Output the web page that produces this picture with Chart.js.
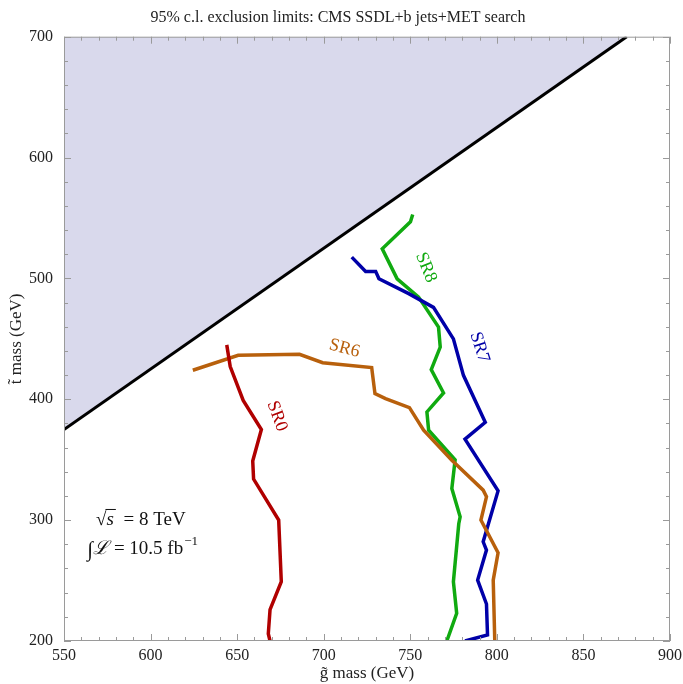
<!DOCTYPE html>
<html>
<head>
<meta charset="utf-8">
<script src="https://cdn.jsdelivr.net/npm/chart.js@4.4.0/dist/chart.umd.min.js"></script>
<style>
  html, body { margin: 0; padding: 0; background: #fff; }
  #wrap { width: 683px; height: 684px; }
</style>
</head>
<body>
<div id="wrap"><canvas id="chart" width="683" height="684"></canvas></div>
<script>
// axis ticks
const xTicks = [550, 600, 650, 700, 750, 800, 850, 900];
const yTicks = [200, 300, 400, 500, 600, 700];

// kinematic boundary (m_stop = m_gluino - m_top)
const boundX = [550, 875];
const boundY = [375, 700];

// exclusion curves
const sr0X = [644, 646, 653.5, 664, 659, 659.5, 674, 675.5, 669, 668, 669];
const sr0Y = [445, 427, 399, 375, 349, 334, 300, 249, 226, 206, 200];

const sr6X = [624.4, 650.6, 686, 699.4, 727.7, 729.6, 735.7, 749.5, 757.7, 774, 792.1, 794, 790.8, 800.7, 797.9, 798.8];
const sr6Y = [424, 436.4, 437.2, 430.3, 426.2, 404.7, 400.6, 393.1, 374.4, 349.6, 324.8, 319.3, 300, 273, 250.4, 200];

const sr7X = [716.2, 724.2, 730, 731.9, 749.1, 763.4, 774.9, 780.7, 793.3, 781.6, 800.7, 792.1, 794, 788.9, 794, 794.6, 781.6];
const sr7Y = [517.6, 505.8, 505.8, 499.7, 487.4, 476, 450, 419.8, 381, 367, 324.2, 282.1, 275.2, 250.4, 230.6, 205, 200];

const sr8X = [751.4, 750.1, 733.8, 742.4, 754.8, 766.3, 767.3, 762.1, 769.2, 759.6, 760.6, 775.9, 774, 778.8, 778, 774.9, 776.8, 771.1];
const sr8Y = [552.9, 546.9, 524.5, 499.7, 484.5, 459.7, 443.2, 424.5, 405.2, 389.5, 374.4, 350, 326.2, 302.7, 297, 249, 222.9, 200];

// curve labels: text, position (data coords), rotation
const labels = [
  { text: "SR0", x: 673, y: 386, rot: 70, color: "#b00000" },
  { text: "SR6", x: 712, y: 442, rot: 15, color: "#b8600c" },
  { text: "SR7", x: 790, y: 443, rot: 72, color: "#0000a8" },
  { text: "SR8", x: 759, y: 509, rot: 68, color: "#10aa10" }
];

const serif = "'Liberation Serif', 'DejaVu Serif', serif";

function pts(xs, ys) {
  return xs.map((x, i) => ({ x: x, y: ys[i] }));
}

function curve(xs, ys, color) {
  return {
    data: pts(xs, ys),
    borderColor: color,
    borderWidth: 3.5,
    pointRadius: 0,
    showLine: true,
    fill: false,
    borderJoinStyle: "miter"
  };
}

// frame, inward ticks and text annotations
const decor = {
  id: "decor",
  afterDraw(chart) {
    const ctx = chart.ctx;
    const a = chart.chartArea;
    const xs = chart.scales.x, ys = chart.scales.y;
    ctx.save();
    ctx.strokeStyle = "#9a9a9a";
    ctx.lineWidth = 1;
    ctx.strokeRect(a.left + 0.5, a.top + 0.5, a.right - a.left - 1, a.bottom - a.top - 1);

    ctx.beginPath();
    for (let v = 550; v <= 900; v += 10) {
      const px = Math.round(xs.getPixelForValue(v)) + 0.5;
      const len = v % 50 === 0 ? 7 : 4;
      ctx.moveTo(px, a.bottom); ctx.lineTo(px, a.bottom - len);
      ctx.moveTo(px, a.top); ctx.lineTo(px, a.top + len);
    }
    for (let v = 200; v <= 700; v += 20) {
      const py = Math.round(ys.getPixelForValue(v)) + 0.5;
      const len = v % 100 === 0 ? 7 : 4;
      ctx.moveTo(a.left, py); ctx.lineTo(a.left + len, py);
      ctx.moveTo(a.right, py); ctx.lineTo(a.right - len, py);
    }
    ctx.stroke();

    // curve labels
    ctx.font = "18px " + serif;
    ctx.textAlign = "center";
    ctx.textBaseline = "middle";
    labels.forEach(l => {
      ctx.save();
      ctx.translate(xs.getPixelForValue(l.x), ys.getPixelForValue(l.y));
      ctx.rotate(l.rot * Math.PI / 180);
      ctx.fillStyle = l.color;
      ctx.fillText(l.text, 0, 0);
      ctx.restore();
    });

    // sqrt(s) and luminosity
    ctx.fillStyle = "#111";
    ctx.textAlign = "left";
    ctx.textBaseline = "alphabetic";
    let x0 = xs.getPixelForValue(568.5), y0 = ys.getPixelForValue(296);
    ctx.font = "19px " + serif;
    ctx.fillText("\u221A", x0, y0);
    let w = ctx.measureText("\u221A").width;
    ctx.font = "italic 19px " + serif;
    ctx.fillText("s", x0 + w, y0);
    const sw = ctx.measureText("s").width;
    ctx.beginPath();
    ctx.strokeStyle = "#111";
    ctx.lineWidth = 1;
    ctx.moveTo(x0 + w - 1, y0 - 15.5);
    ctx.lineTo(x0 + w + sw + 2, y0 - 15.5);
    ctx.stroke();
    ctx.font = "19px " + serif;
    ctx.fillText(" = 8 TeV", x0 + w + sw + 5, y0);

    x0 = xs.getPixelForValue(563.5); y0 = ys.getPixelForValue(272);
    ctx.font = "21px " + serif;
    ctx.fillText("\u222B", x0, y0 + 2);
    w = ctx.measureText("\u222B").width;
    ctx.font = "italic 19px " + serif;
    ctx.fillText("\u2112", x0 + w, y0);
    w += ctx.measureText("\u2112").width;
    ctx.font = "19px " + serif;
    ctx.fillText(" = 10.5 fb", x0 + w, y0);
    w += ctx.measureText(" = 10.5 fb").width;
    ctx.font = "13px " + serif;
    ctx.fillText("\u22121", x0 + w + 1, y0 - 9);
    ctx.restore();
  }
};

new Chart(document.getElementById("chart"), {
  type: "scatter",
  data: {
    datasets: [
      {
        data: pts(boundX, boundY),
        borderColor: "#000",
        borderWidth: 3,
        pointRadius: 0,
        showLine: true,
        fill: "end",
        backgroundColor: "#d9d9ec"
      },
      curve(sr0X, sr0Y, "#b00000"),
      curve(sr6X, sr6Y, "#b8600c"),
      curve(sr7X, sr7Y, "#0000a8"),
      curve(sr8X, sr8Y, "#10aa10")
    ]
  },
  plugins: [decor],
  options: {
    responsive: false,
    animation: false,
    layout: { padding: { top: 0, right: 13, bottom: 0, left: 6 } },
    plugins: {
      legend: { display: false },
      tooltip: { enabled: false },
      title: {
        display: true,
        text: "95% c.l. exclusion limits: CMS SSDL+b jets+MET search",
        color: "#222",
        font: { family: serif, size: 16, weight: "normal" },
        padding: { top: 8, bottom: 9.5 }
      }
    },
    scales: {
      x: {
        type: "linear",
        min: 550, max: 900,
        afterBuildTicks: s => { s.ticks = xTicks.map(v => ({ value: v })); },
        afterFit: s => { s.height = 43; },
        grid: { display: false },
        border: { display: false },
        ticks: { color: "#222", font: { family: serif, size: 16 }, padding: -3, maxRotation: 0 },
        title: {
          display: true,
          text: "g\u0303 mass (GeV)",
          color: "#222",
          font: { family: serif, size: 17 },
          padding: { top: 0, bottom: 0 }
        }
      },
      y: {
        type: "linear",
        min: 200, max: 700,
        afterBuildTicks: s => { s.ticks = yTicks.map(v => ({ value: v })); },
        afterFit: s => { s.width = 58; },
        grid: { display: false },
        border: { display: false },
        ticks: { color: "#222", font: { family: serif, size: 16 }, padding: 3 },
        title: {
          display: true,
          text: "t\u0303 mass (GeV)",
          color: "#222",
          font: { family: serif, size: 17 },
          padding: { top: 0, bottom: 4 }
        }
      }
    }
  }
});
</script>
</body>
</html>
